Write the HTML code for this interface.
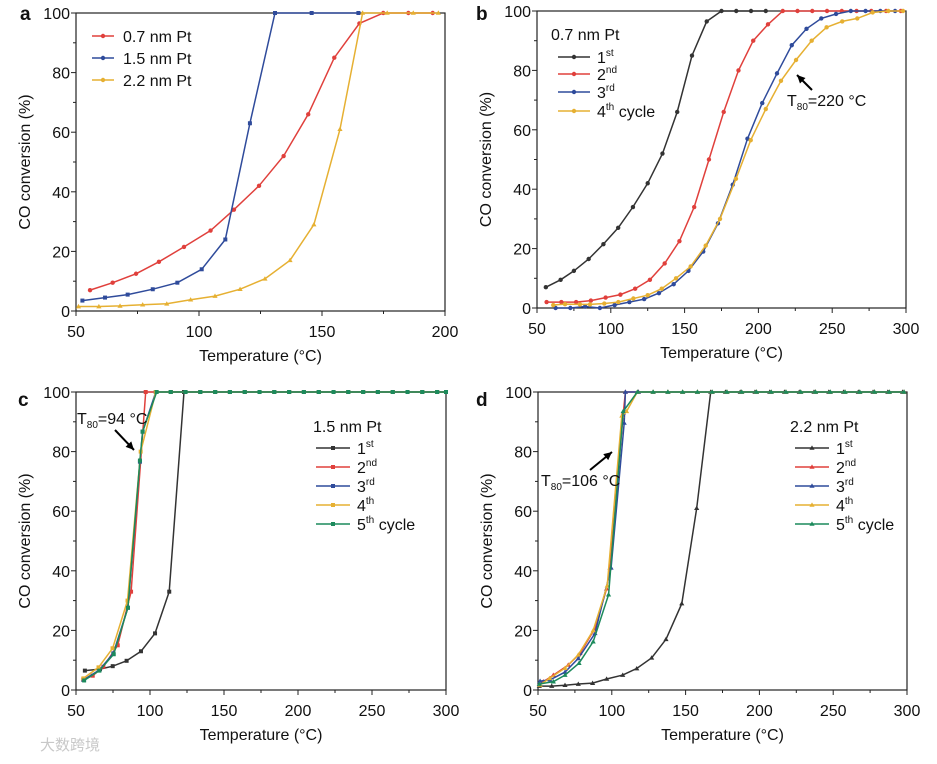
<!DOCTYPE html>
<html><head><meta charset="utf-8"><style>
body{margin:0;background:#fff;width:937px;height:759px;overflow:hidden;font-family:"Liberation Sans",Arial,sans-serif}
svg text{font-family:"Liberation Sans",Arial,sans-serif}
</style></head><body>
<svg id="fig" width="937" height="759" viewBox="0 0 937 759" xmlns="http://www.w3.org/2000/svg"></svg>
<script>
// ---------- Panel a data ----------
const aRedT=[55.7,64.9,74.4,83.7,93.9,104.7,114.2,124.4,134.4,144.4,155,165.2,174.9,185.1,195];
const aRedV=[7,9.5,12.5,16.5,21.5,27,34,42,52,66,85,96.5,100,100,100];
const aBlueT=[52.6,61.8,71,81.2,91.2,101.1,110.7,120.7,130.9,145.8,164.8];
const aBlueV=[3.5,4.5,5.5,7.3,9.5,14,24,63,100,100,100];
const aYelT=[51,59.3,67.9,77.1,86.9,96.6,106.5,116.7,126.8,137,146.7,157.3,166.5,176.5,187.1,197.3];
const aYelV=[1.5,1.5,1.7,2.1,2.4,3.8,5,7.3,10.8,17,29,61,100,100,100,100];
// ---------- Panel b data ----------
const bBlkT=[56,66,75,85,95,105,115,125,135,145,155,165,175,185,195,205];
const bBlkV=[7,9.5,12.5,16.5,21.5,27,34,42,52,66,85,96.5,100,100,100,100];
const bRedT=[56.5,66.5,76.5,86.5,96.5,106.5,116.5,126.5,136.5,146.5,156.5,166.5,176.5,186.5,196.5,206.5,216.5,226.5,236.5,246.5,256.5,266.5,276.5,286.5,296.5];
const bRedV=[2,2,2,2.5,3.5,4.5,6.5,9.5,15,22.5,34,50,66,80,90,95.5,100,100,100,100,100,100,100,100,100];
const bBlueT=[62.6,72.6,82.6,92.6,102.6,112.6,122.6,132.6,142.6,152.6,162.6,172.6,182.6,192.6,202.6,212.6,222.6,232.6,242.6,252.6,262.6,272.6,282.6,292.6];
const bBlueV=[0,0,0.5,0,1,2,3,5,8,12.5,19,28.5,41.5,57,69,79,88.5,94,97.5,99,100,100,100,100];
const bYelT=[61,69,79.1,85.9,95.6,105.1,115.3,125,134.5,144.2,154.1,164.3,174,184.8,194.8,205,215.3,225.5,236.1,246.2,256.8,267,277.4,288,298];
const bYelV=[1,1.3,1.2,1.2,1.5,2,3.2,4.3,6.5,10,14,21,30,43.5,56.5,67,76.5,83.5,90,94.5,96.5,97.5,99.5,100,100];
// ---------- Panel c data ----------
const cTail=[114,124,134,144,154,164,174,184,194,204,214,224,234,244,254,264,274,284,294,300];
const cBlkT=[56,66.2,74.8,84.2,93.9,103.4,113,123];
const cBlkV=[6.5,7,8,9.8,13,19,33,100];
const cRedT=[54.9,61.3,68.5,78.2,87.2,97.1];
const cRedV=[3.5,4.8,7.8,15,33,100];
const cBlueT=[55,65.8,75.2,85.1,93.2,95,103.9];
const cBlueV=[3.4,6.7,12.3,27.6,76.6,86.7,100];
const cYelT=[55,65.2,74.7,84.8,93.7,103.9];
const cYelV=[3.9,7.6,14,30,80,100];
const cGrnT=[55.5,65.8,75.5,85.1,93.2,95,104.5];
const cGrnV=[3.2,6.5,12,27.6,77,86.7,100];
// ---------- Panel d data ----------
const dTail=[128,138,148,158,168,178,188,198,208,218,228,238,248,258,268,278,288,298];
const dBlkT=[50.9,59.3,68.3,77.3,87,96.5,107.4,116.9,127,136.7,147.4,157.5,167,177,187,197,207,217,227,237,247,257,267,277,287,297];
const dBlkV=[1.3,1.3,1.6,2,2.3,3.7,5,7.2,10.8,17,29,61,100,100,100,100,100,100,100,100,100,100,100,100,100,100];
const dRedT=[53.6,60.4,70.5,78.5,88.6,96.5,98.8,107.8,109.2,118];
const dRedV=[2.8,5,8.4,12.3,20.7,34,41,93,100,100];
const dBlueT=[51.4,58.1,68.3,77.3,88.6,99.5,108.4,109.2,118];
const dBlueV=[3,3.4,6,10.6,19,41,89.6,100,100];
const dYelT=[51.4,57.8,68.3,77.3,87.4,96.9,106.8,110,117.3];
const dYelV=[1.7,3.9,7.3,11.8,20,35,92,93.5,100];
const dGrnT=[50.9,60.4,68.3,77.8,87.4,97.8,107.7,117.3];
const dGrnV=[2,2.8,5,9,16.2,32,93.5,100];

const RED="#e0403c",BLUE="#2f4b9b",YEL="#e6b032",BLK="#333333",GRN="#1c8a5c";
const NS="http://www.w3.org/2000/svg";
const svg=document.getElementById('fig');
function mk(tag,attrs,parent){const e=document.createElementNS(NS,tag);for(const k in attrs)e.setAttribute(k,attrs[k]);(parent||svg).appendChild(e);return e;}
function txt(x,y,s,size,anchor,parent,weight){const t=mk('text',{x:x,y:y,'font-size':size,'text-anchor':anchor||'start',fill:'#111'},parent);if(weight)t.setAttribute('font-weight',weight);t.textContent=s;return t;}

function panel(id,L,R,T,B,xmin,xmax,xMaj,xMin){
  const g=mk('g',{});
  
  
  const sx=v=>L+(v-xmin)/(xmax-xmin)*(R-L);
  const sy=v=>B-v/100*(B-T);
  const frame=mk('rect',{x:L,y:T,width:R-L,height:B-T,fill:'none',stroke:'#222','stroke-width':1.2},g);
  
  
  for(let v=0;v<=100;v+=10){
    const maj=v%20===0;
    mk('line',{x1:L,x2:L-(maj?5:3),y1:sy(v),y2:sy(v),stroke:'#222','stroke-width':1},g);
    if(maj){const t=txt(L-6,sy(v)+6,String(v),16,'end',g);
      
      }
  }
  for(let v=xmin;v<=xmax+0.01;v+=xMin){
    const maj=Math.abs((v-xmin)%xMaj)<0.01;
    mk('line',{x1:sx(v),x2:sx(v),y1:B,y2:B+(maj?5:3),stroke:'#222','stroke-width':1},g);
    if(maj){const t=txt(sx(v),B+26,String(v),16,'middle',g);
      
      }
  }
  const xt=txt((L+R)/2,B+50,'Temperature (°C)',16,'middle',g);
  
  
  const yt=txt(0,0,'CO conversion (%)',16,'middle',g);
  yt.setAttribute('transform','translate('+(L-46)+','+((T+B)/2)+') rotate(-90)');
  
  
  return {g,sx,sy};
}
function marker(g,x,y,shape,col){
  if(shape==='tri')return mk('path',{d:`M${x},${y-2.6}L${x+2.6},${y+1.8}L${x-2.6},${y+1.8}Z`,fill:col},g);
  if(shape==='sq')return mk('rect',{x:x-2,y:y-2,width:4,height:4,fill:col},g);
  return mk('circle',{cx:x,cy:y,r:2.2,fill:col},g);
}
function series(P,name,T,V,col,shape){
  const g=mk('g',{},P.g);
  
  
  const pts=T.map((t,i)=>P.sx(t).toFixed(1)+','+P.sy(V[i]).toFixed(1)).join(' ');
  mk('polyline',{points:pts,fill:'none',stroke:col,'stroke-width':1.5},g);
  T.forEach((t,i)=>marker(g,P.sx(t),P.sy(V[i]),shape,col));
}
function legend(P,x0,x1,tx,ys,items,shape,name){
  const g=mk('g',{},P.g);
  
  
  items.forEach((it,i)=>{
    const e=mk('g',{},g);
    
    
    mk('line',{x1:x0,x2:x1,y1:ys[i],y2:ys[i],stroke:it[1],'stroke-width':1.5},e);
    marker(e,(x0+x1)/2,ys[i],shape,it[1]);
    const t=mk('text',{x:tx,y:ys[i]+6,'font-size':16,fill:'#111'},e);
    t.appendChild(document.createTextNode(it[0]));
    if(it[2]){const s=mk('tspan',{'font-size':10,dy:-7},t);s.textContent=it[2];
      if(it[3]){const s2=mk('tspan',{'font-size':16,dy:7},t);s2.textContent=it[3];}}
  });
}
function letter(x,y,s){const t=txt(x,y,s,19,'start',svg,'bold');
  
  }
function note(P,x,y,sub,rest,ax1,ay1,ax2,ay2,name){
  const g=mk('g',{},P.g);
  
  
  const t=mk('text',{x:x,y:y,'font-size':16,fill:'#111'},g);
  t.appendChild(document.createTextNode('T'));
  const s=mk('tspan',{'font-size':10,dy:4},t);s.textContent=sub;
  const r=mk('tspan',{dy:-4},t);r.textContent=rest;
  mk('line',{x1:ax1,y1:ay1,x2:ax2,y2:ay2,stroke:'#000','stroke-width':2},g);
  const ang=Math.atan2(ay2-ay1,ax2-ax1),h=9;
  const p1=[ax2-h*Math.cos(ang-0.45),ay2-h*Math.sin(ang-0.45)],p2=[ax2-h*Math.cos(ang+0.45),ay2-h*Math.sin(ang+0.45)];
  mk('path',{d:`M${ax2},${ay2}L${p1[0]},${p1[1]}L${p2[0]},${p2[1]}Z`,fill:'#000'},g);
}

// Panel a
const A=panel('a',76,445,13,311,50,200,50,25);
series(A,'series-0.7nm',aRedT,aRedV,RED,'circ');
series(A,'series-1.5nm',aBlueT,aBlueV,BLUE,'sq');
series(A,'series-2.2nm',aYelT,aYelV,YEL,'tri');
legend(A,92,114,123,[36,58,80],[['0.7 nm Pt',RED],['1.5 nm Pt',BLUE],['2.2 nm Pt',YEL]],'circ','legend-a');
letter(20,20,'a');

// Panel b
const Bp=panel('b',537,906,11,308,50,300,50,25);
series(Bp,'series-1st',bBlkT,bBlkV,BLK,'circ');
series(Bp,'series-2nd',bRedT,bRedV,RED,'circ');
series(Bp,'series-3rd',bBlueT,bBlueV,BLUE,'circ');
series(Bp,'series-4th',bYelT,bYelV,YEL,'circ');
txt(551,40,'0.7 nm Pt',16,'start',Bp.g);
legend(Bp,558,590,597,[57,74,92,111],[['1',BLK,'st'],['2',RED,'nd'],['3',BLUE,'rd'],['4',YEL,'th',' cycle']],'circ','legend-b');
note(Bp,787,106,'80','=220 °C',812,90,797,75,'t80-annotation-b');
letter(476,20,'b');

// Panel c
const C=panel('c',76,446,392,690,50,300,50,25);
const c100=cTail.map(()=>100);
series(C,'series-1st',cBlkT.concat(cTail),cBlkV.concat(c100),BLK,'sq');
series(C,'series-2nd',cRedT.concat(cTail),cRedV.concat(c100),RED,'sq');
series(C,'series-3rd',cBlueT.concat(cTail),cBlueV.concat(c100),BLUE,'sq');
series(C,'series-4th',cYelT.concat(cTail),cYelV.concat(c100),YEL,'sq');
series(C,'series-5th',cGrnT.concat(cTail),cGrnV.concat(c100),GRN,'sq');
txt(313,432,'1.5 nm Pt',16,'start',C.g);
legend(C,316,350,357,[448,467,486,505,524],[['1',BLK,'st'],['2',RED,'nd'],['3',BLUE,'rd'],['4',YEL,'th'],['5',GRN,'th',' cycle']],'sq','legend-c');
note(C,77,424,'80','=94 °C',115,430,134,450,'t80-annotation-c');
letter(18,406,'c');

// Panel d
const D=panel('d',538,907,392,690,50,300,50,25);
const d100=dTail.map(()=>100);
series(D,'series-1st',dBlkT,dBlkV,BLK,'tri');
series(D,'series-2nd',dRedT.concat(dTail),dRedV.concat(d100),RED,'tri');
series(D,'series-3rd',dBlueT.concat(dTail),dBlueV.concat(d100),BLUE,'tri');
series(D,'series-4th',dYelT.concat(dTail),dYelV.concat(d100),YEL,'tri');
series(D,'series-5th',dGrnT.concat(dTail),dGrnV.concat(d100),GRN,'tri');
txt(790,432,'2.2 nm Pt',16,'start',D.g);
legend(D,795,829,836,[448,467,486,505,524],[['1',BLK,'st'],['2',RED,'nd'],['3',BLUE,'rd'],['4',YEL,'th'],['5',GRN,'th',' cycle']],'tri','legend-d');
note(D,541,486,'80','=106 °C',590,470,612,452,'t80-annotation-d');
letter(476,406,'d');

const wm=mk('text',{x:40,y:750,'font-size':15,fill:'#c8c8c8'});
wm.setAttribute('font-family','"Liberation Sans","Noto Sans CJK SC",sans-serif');


wm.textContent='大数跨境';
</script>
</body></html>
